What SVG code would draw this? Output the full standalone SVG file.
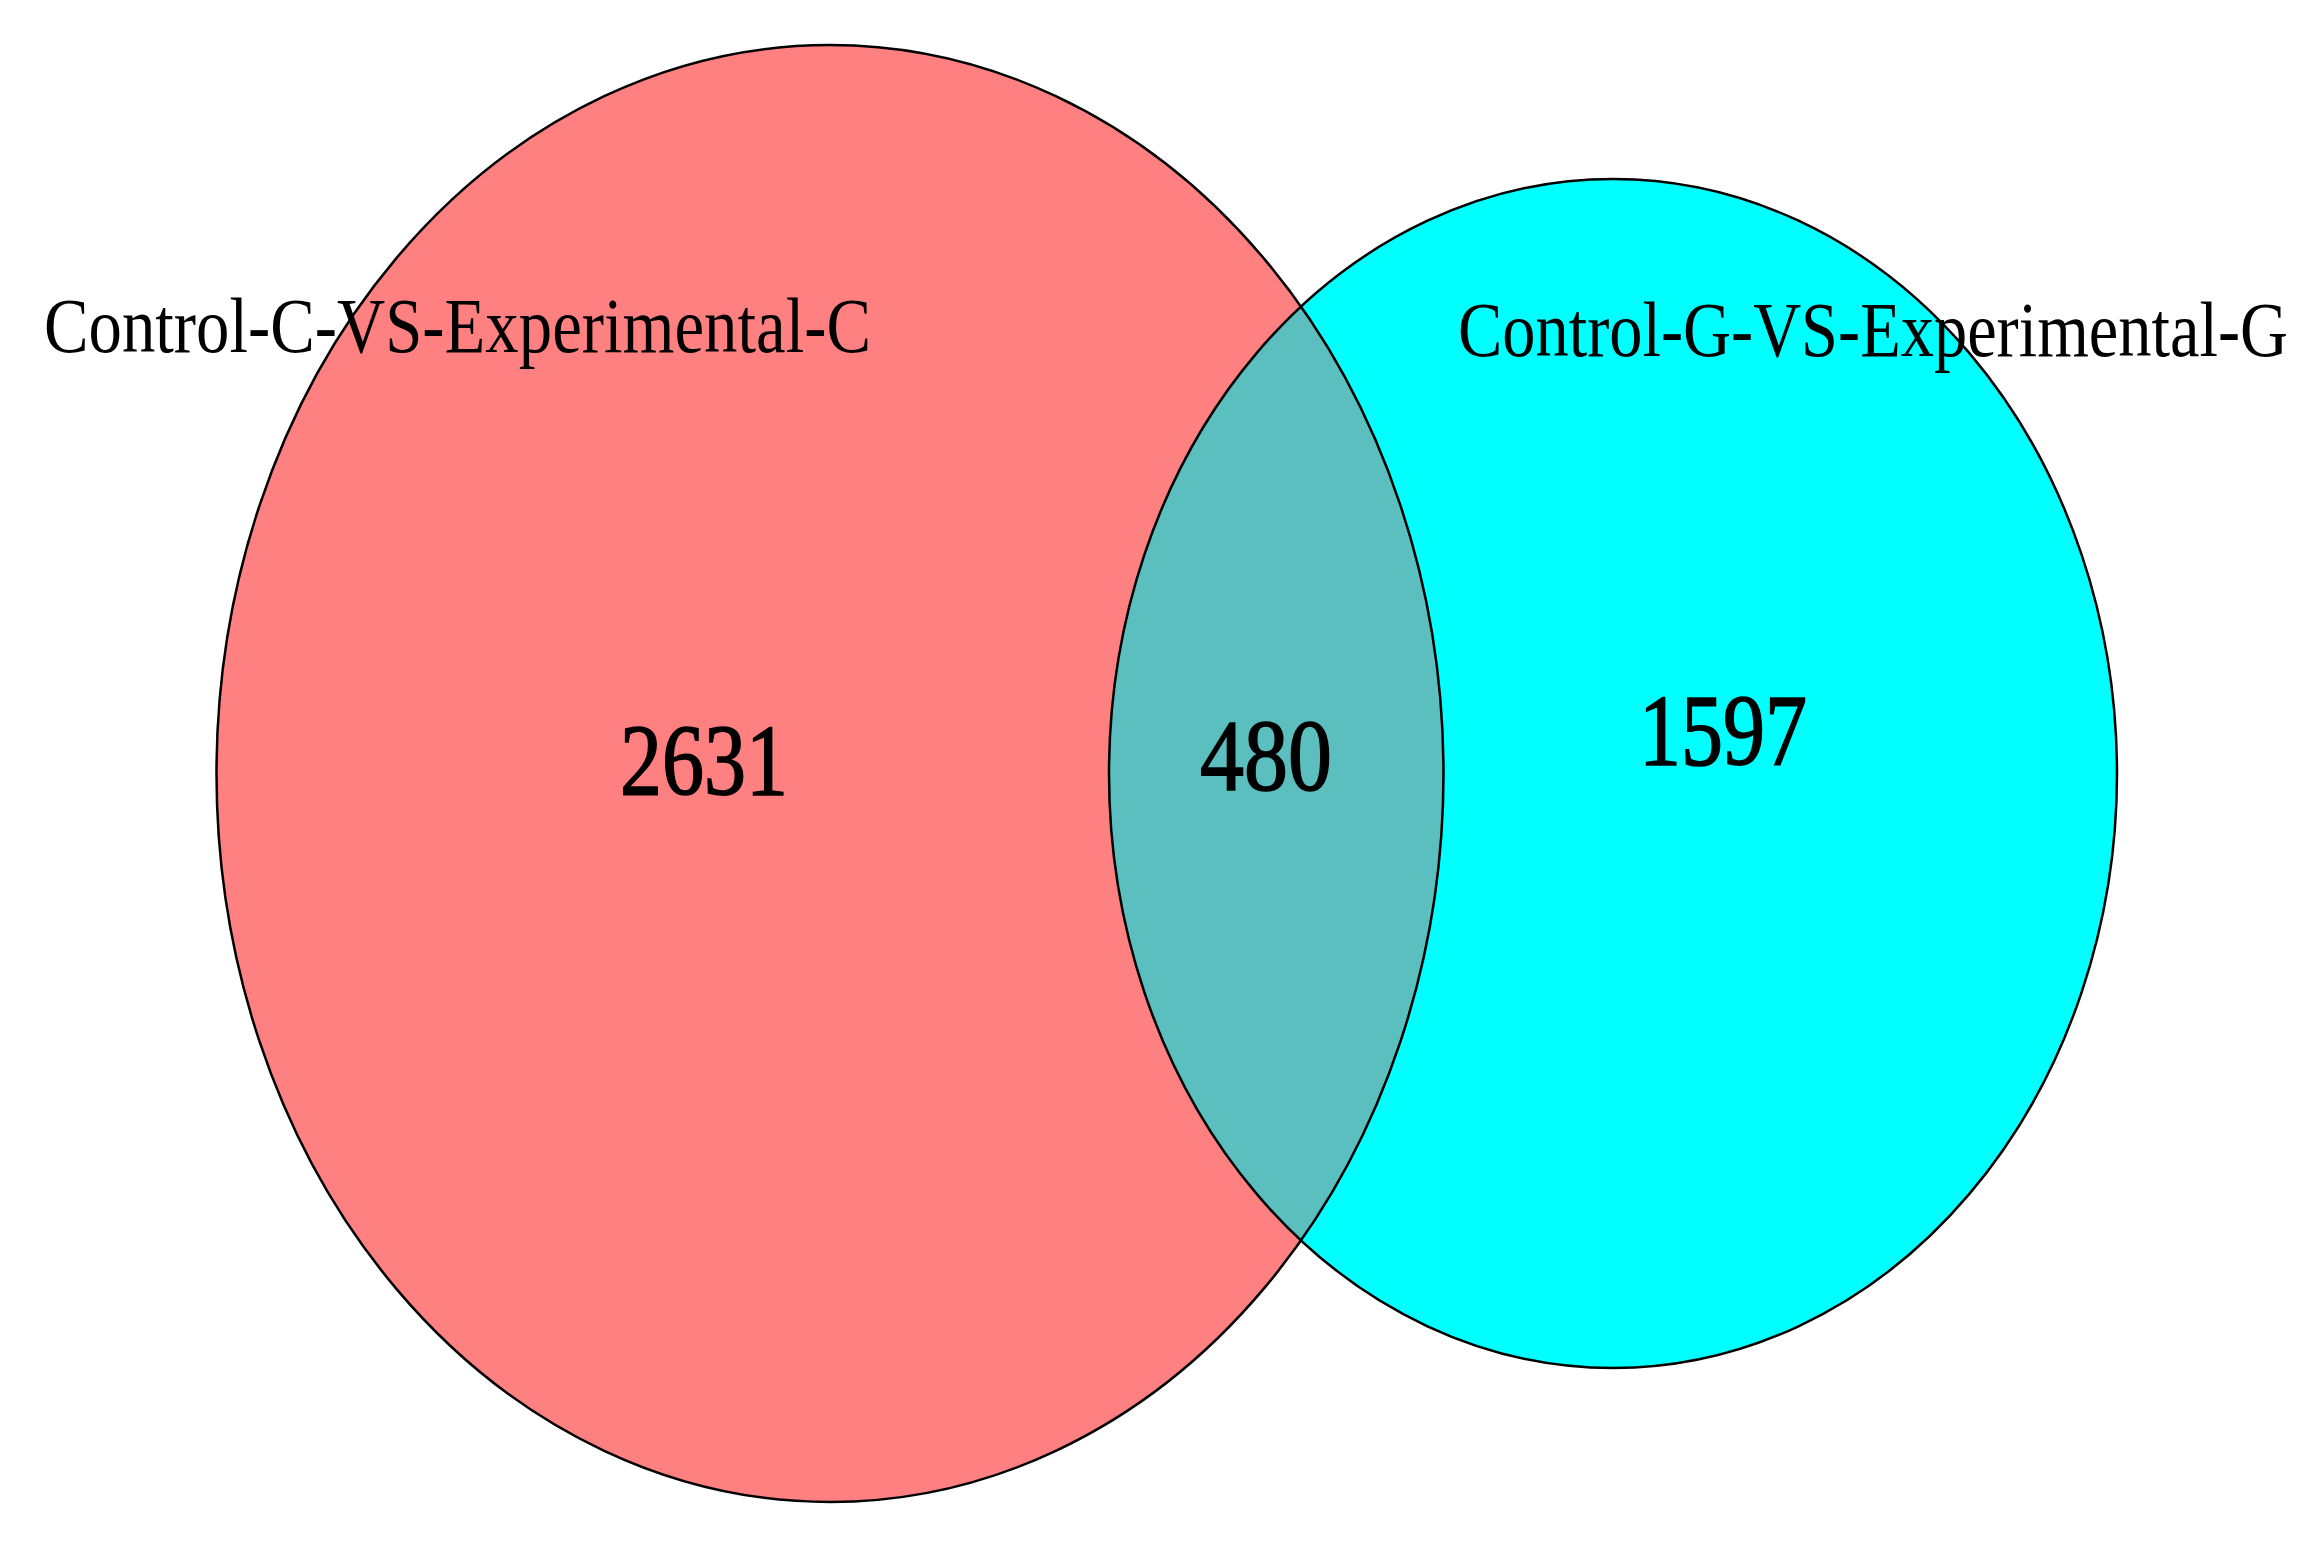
<svg xmlns="http://www.w3.org/2000/svg" width="2309" height="1541" viewBox="0 0 2309 1541">
<style>
.lbl{font-family:"Liberation Serif","Times New Roman",serif;font-size:78px;fill:#000}
.num{font-family:"Liberation Serif","Times New Roman",serif;font-size:102px;fill:#000;stroke:#000;stroke-width:1.6}
.edge{fill:none;stroke:#000;stroke-width:2.5}
</style>
<defs>
<clipPath id="clipLeft"><ellipse cx="830" cy="773.5" rx="613.5" ry="728.5"/></clipPath>
</defs>
<rect width="2309" height="1541" fill="#fff"/>
<g id="set-c">
<ellipse cx="830" cy="773.5" rx="613.5" ry="728.5" fill="#FF8080"/>
</g>
<g id="set-g">
<ellipse cx="1613" cy="773.5" rx="504" ry="594.5" fill="#00FFFF"/>
</g>
<g id="overlap">
<ellipse cx="1613" cy="773.5" rx="504" ry="594.5" fill="#5BBFBF" clip-path="url(#clipLeft)"/>
</g>
<g id="outlines">
<ellipse class="edge" cx="830" cy="773.5" rx="613.5" ry="728.5"/>
<ellipse class="edge" cx="1613" cy="773.5" rx="504" ry="594.5"/>
</g>
<g id="labels">
<text class="lbl" x="44" y="352" textLength="827" lengthAdjust="spacingAndGlyphs">Control-C-VS-Experimental-C</text>
<text class="lbl" x="1458" y="356" textLength="830" lengthAdjust="spacingAndGlyphs">Control-G-VS-Experimental-G</text>
<text class="num" x="620" y="795" textLength="168" lengthAdjust="spacingAndGlyphs">2631</text>
<text class="num" x="1200" y="790" textLength="132" lengthAdjust="spacingAndGlyphs">480</text>
<text class="num" x="1639" y="765" textLength="168" lengthAdjust="spacingAndGlyphs">1597</text>
</g>
</svg>
